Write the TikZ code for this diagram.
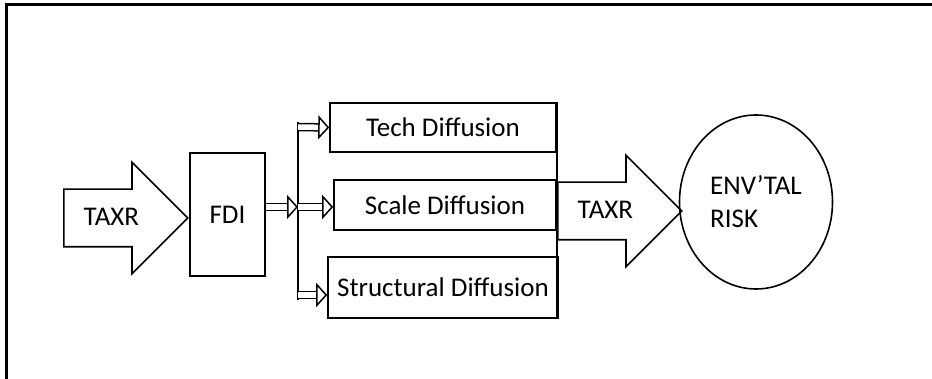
\documentclass[tikz,border=0pt]{standalone}
\usepackage{fontspec}
\setmainfont{Carlito}
\usetikzlibrary{shapes.arrows,shapes.geometric,arrows.meta}

\begin{document}
\begin{tikzpicture}[x=1pt,y=-1pt,
        font=\fontsize{27}{33}\selectfont,
        box/.style={draw,line width=1.6pt,inner sep=0pt},
        fat/.style={single arrow,draw,line width=1.6pt,inner xsep=0pt,
            text height=16pt,text depth=0pt,inner ysep=20pt,
            single arrow head extend=27pt,minimum height=124pt},
        dbl/.style={double,double distance=5.5pt,line width=1.5pt,
            -{Triangle[open,length=11pt,width=24pt]}}]
        \useasboundingbox (0,0) rectangle (932,379);
        \draw[line width=3pt] (6,379) -- (6,5) -- (932,5);

        \node[fat,anchor=tail] (taxrin) at (63,218) {TAXR};
        \node[box,minimum width=75pt,minimum height=123pt] (fdi) at (227.5,214.5) {FDI};

        \node[box,minimum width=226pt,minimum height=49pt] (tech) at (443,127.5) {Tech Diffusion};
        \node[box,minimum width=222pt,minimum height=50pt] (scale) at (445,205) {Scale Diffusion};
        \node[box,minimum width=230pt,minimum height=61pt] (struct) at (443,287.5) {Structural Diffusion};
        \draw[line width=2pt] (tech.north east) -- (tech.north east |- struct.south);

        \node[fat,anchor=tail] (taxrout) at (557,211) {TAXR};
        \node[ellipse,draw,line width=1.6pt,minimum width=153pt,minimum height=174pt,
            align=left] (risk) at (756,202) {ENV’TAL\\RISK};

        % branching of FDI
        \coordinate (jt) at (298,127);
        \coordinate (js) at (298,207);
        \coordinate (jr) at (298,295);
        \draw[line width=1.5pt,shorten <=-5pt,shorten >=-5pt] (jt) -- (jr);
        \draw[dbl] (fdi.east |- js) -- (js);
        \draw[dbl] (jt) -- (tech.west);
        \draw[dbl] (js) -- (scale.west |- js);
        \draw[dbl] (jr) -- (struct.west |- jr);
    \end{tikzpicture}
\end{document}
